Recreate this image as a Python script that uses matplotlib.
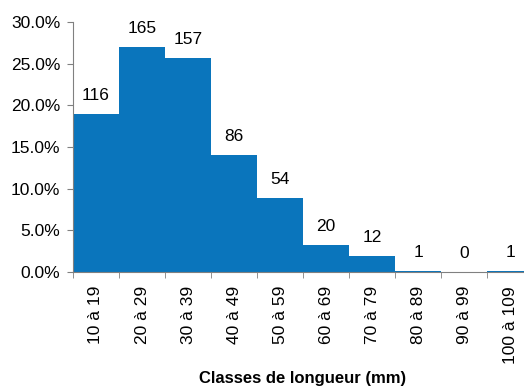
import matplotlib.pyplot as plt
from matplotlib.ticker import FuncFormatter

plt.rcParams["font.family"] = ["Liberation Sans", "DejaVu Sans"]

classes = ["10 à 19", "20 à 29", "30 à 39", "40 à 49", "50 à 59",
           "60 à 69", "70 à 79", "80 à 89", "90 à 99", "100 à 109"]
effectifs = [116, 165, 157, 86, 54, 20, 12, 1, 0, 1]

total = sum(effectifs)
pourcentages = [n / total for n in effectifs]

fig = plt.figure(figsize=(5.24, 3.88), dpi=100)
ax = fig.add_axes([0.1393, 0.299, 0.878, 0.644])

x = list(range(len(classes)))
bars = ax.bar(x, pourcentages, width=1.0, color="#0A75BC", linewidth=0)

for xi, p, n in zip(x, pourcentages, effectifs):
    ax.annotate(str(n), (xi, p), xytext=(0, 8), textcoords="offset points",
                ha="center", va="bottom", fontsize=12.5)

ax.set_xlim(-0.5, len(classes) - 0.5)
ax.set_ylim(0, 0.30)
ax.set_yticks([0, 0.05, 0.10, 0.15, 0.20, 0.25, 0.30])
ax.yaxis.set_major_formatter(FuncFormatter(lambda v, _: f"{v * 100:.1f}%"))

# category labels centred under bars, tick marks on the class boundaries
ax.set_xticks(x)
ax.set_xticklabels(classes, rotation=90, fontsize=12.5)
ax.tick_params(axis="x", length=0, pad=10)
ax.set_xticks([i - 0.5 for i in range(len(classes) + 1)], minor=True)
ax.tick_params(axis="x", which="minor", length=4, color="#808080", direction="out")
ax.tick_params(axis="y", length=4, color="#808080", labelsize=12.5, pad=5)

for side in ["top", "right"]:
    ax.spines[side].set_visible(False)
for side in ["left", "bottom"]:
    ax.spines[side].set_color("#808080")

# axis title placed at the bottom of the figure, centred on the plot area
fig.text(0.578, 0.006, "Classes de longueur (mm)", fontsize=12, fontweight="bold",
         ha="center", va="bottom")

fig.savefig("out.png", dpi=100)
